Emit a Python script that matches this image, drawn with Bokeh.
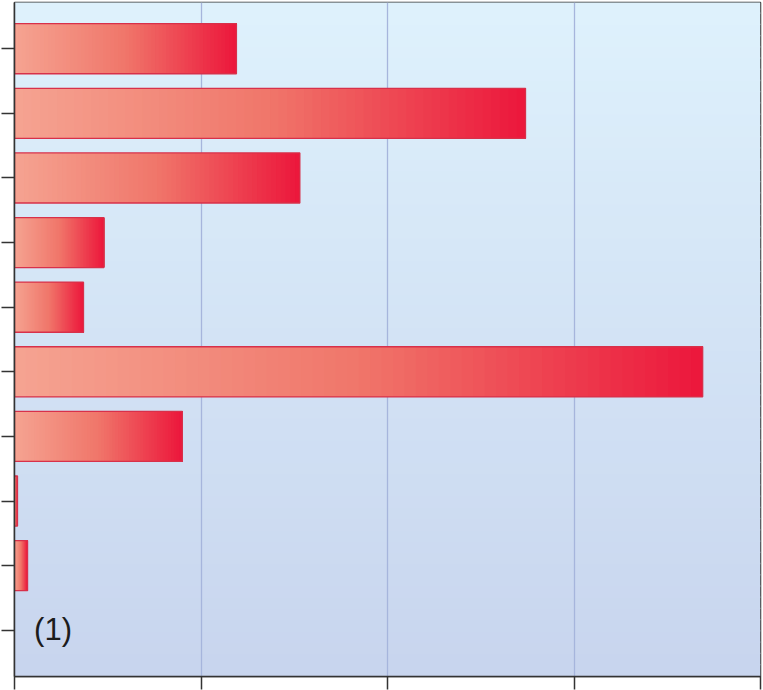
from bokeh.plotting import figure
from bokeh.models import FixedTicker, ColumnDataSource
from bokeh.core.properties import value
from bokeh.embed import file_html
from bokeh.resources import INLINE

# bars listed from top to bottom, the bottom slot is empty
bar_pos = [9, 8, 7, 6, 5, 4, 3, 2, 1]
bar_vals = [1.19, 2.74, 1.53, 0.48, 0.37, 3.69, 0.90, 0.016, 0.07]
y_ticks = [0, 1, 2, 3, 4, 5, 6, 7, 8, 9]
x_ticks = [0, 1, 2, 3, 4]
panel_label = "(1)"


def mix(c1, c2, t):
    r = int(round(c1[0] + (c2[0] - c1[0]) * t))
    g = int(round(c1[1] + (c2[1] - c1[1]) * t))
    b = int(round(c1[2] + (c2[2] - c1[2]) * t))
    return "#%02x%02x%02x" % (r, g, b)


def bar_color(t):
    # light salmon -> coral -> crimson
    if t < 0.5:
        return mix((245, 163, 145), (240, 118, 106), t / 0.5)
    return mix((240, 118, 106), (236, 24, 60), (t - 0.5) / 0.5)


y_lo, y_hi = -0.715, 9.715

p = figure(width=762, height=690, x_range=(0, 4), y_range=(y_lo, y_hi),
           output_backend="svg", toolbar_location=None, tools="",
           min_border_left=14, min_border_right=2, min_border_top=2,
           min_border_bottom=14)
p.background_fill_color = "#ffffff"
p.border_fill_color = "#ffffff"

# background gradient, pale cyan at top to lavender blue at bottom
nb = 60
bg_bottom, bg_top, bg_col = [], [], []
for i in range(nb):
    b = y_lo + (y_hi - y_lo) * i / nb
    t = y_lo + (y_hi - y_lo) * (i + 1) / nb + 0.02
    bg_bottom.append(b)
    bg_top.append(t)
    bg_col.append(mix((200, 213, 238), (222, 241, 252), i / (nb - 1)))
bg = p.quad(left=0, right=4, bottom=bg_bottom, top=bg_top, fill_color=bg_col,
            line_color=None)
bg.level = "image"

# gradient bars: stacked slices that all run to the bar end, so no seams
ns = 60
sl_y, sl_l, sl_r, sl_c = [], [], [], []
for y, v in zip(bar_pos, bar_vals):
    for k in range(ns):
        sl_y.append(y)
        sl_l.append(v * k / ns)
        sl_r.append(v)
        sl_c.append(bar_color(k / (ns - 1)))
src = ColumnDataSource(dict(y=sl_y, left=sl_l, right=sl_r, color=sl_c))
p.hbar(y="y", left="left", right="right", height=0.775, fill_color="color",
       line_color=None, source=src)
p.hbar(y=bar_pos, left=0, right=bar_vals, height=0.775, fill_color=None,
       line_color="#d8304a", line_width=1.3)

p.text(x=[0.105], y=[0.01], text=[panel_label], text_font=value("Liberation Sans"),
       text_font_size="31px", text_color="#1c1c1c", text_baseline="middle")

# grid: vertical lines only, behind the bars
p.xgrid.ticker = FixedTicker(ticks=[1, 2, 3])
p.xgrid.grid_line_color = "#a6b5dc"
p.xgrid.grid_line_width = 1.3
p.ygrid.grid_line_color = None

p.xaxis.ticker = FixedTicker(ticks=x_ticks)
p.yaxis.ticker = FixedTicker(ticks=y_ticks)
p.xaxis.major_label_overrides = {t: "" for t in x_ticks}
p.yaxis.major_label_overrides = {t: "" for t in y_ticks}
for ax in (p.xaxis[0], p.yaxis[0]):
    ax.major_label_text_font_size = "1px"
    ax.major_label_standoff = 0
    ax.minor_tick_line_color = None
    ax.major_tick_in = 0
    ax.major_tick_out = 13
    ax.major_tick_line_color = "#333333"
    ax.major_tick_line_width = 1.5
    ax.axis_line_color = "#333333"
    ax.axis_line_width = 1.5

p.outline_line_color = "#333333"
p.outline_line_width = 1.5

open("out.html", "w").write(file_html(p, INLINE))
